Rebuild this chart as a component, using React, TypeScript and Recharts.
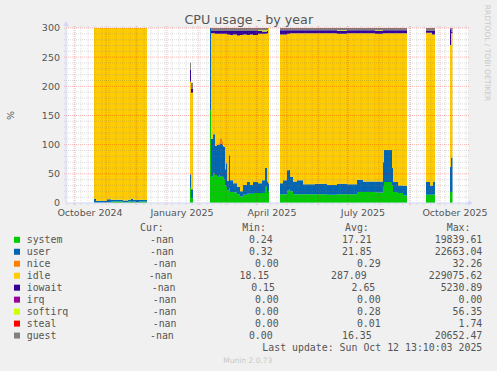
import React from 'react';
import { ComposedChart, Area, XAxis, YAxis, CartesianGrid, ReferenceLine } from 'recharts';

// Day index: days since 1 Oct 2024 (one pixel per day in the original)
const days = [
  19, 21, 32, 36, 48, 53, 56, 58, 61, 64, 68, 72,
  115, 116, 118,
  135, 136, 138, 140, 142, 144, 145, 147, 148, 149, 150, 151, 152, 154, 155, 158, 162, 165, 168, 172, 175, 178, 183, 187, 190, 192, 193, 194,
  205, 208, 212, 214, 215, 218, 222, 228, 240, 252, 262, 272, 282, 288, 300, 308, 309, 317, 318, 323, 328, 332,
  351, 355, 357, 358, 360,
  375, 376, 377.5,
];
const system = [
  0.5, 0.5, 1, 2.5, 1, 2.5, 2, 2.5, 1, 2.5, 2.5, 0,
  26, 8, 0,
  159, 45, 50, 48, 45, 47, 45, 46, 44, 40, 30, 28, 22, 25, 19, 18, 15, 11, 14, 16, 16, 17, 17, 17, 28, 17, 20, 0,
  15, 15, 22, 24, 20, 15, 15, 15, 15, 14, 15, 15, 19, 19, 18, 28, 36, 30, 19, 17, 13, 0,
  14, 14, 14, 15, 0,
  19, 19, 0,
];
const user = [
  6.5, 3.5, 5.5, 3, 3.5, 3, 5.5, 3, 4, 3, 2.5, 0,
  23, 15.5, 0,
  141, 65, 68, 50, 55, 53, 57, 54, 52, 56, 28, 40, 16, 57, 20, 16, 13, 9, 17, 20, 15, 19, 17, 22, 32, 20, 14, 0,
  19, 24, 34, 33, 25, 22, 24, 17, 18, 17, 18, 17, 21, 18, 19, 42, 55, 30, 17, 13, 16, 0,
  22, 16, 16, 22, 0,
  43, 59, 0,
];
const nice = [
  0, 0, 0, 0, 0, 0, 0, 0, 0, 0, 0, 0,
  2, 0, 0,
  0, 0, 0, 0, 0, 3, 9, 6, 2, 0, 0, 0, 0, 0, 0, 0, 0, 0, 0, 0, 0, 0, 0, 0, 0, 0, 0, 0,
  0, 0, 0, 0, 0, 0, 0, 0, 0, 0, 0, 0, 0, 0, 0, 0, 0, 0, 0, 0, 0, 0,
  0, 0, 0, 0, 0,
  0, 0, 0,
];
const idle = [
  293, 296, 293.5, 294.5, 295.5, 294.5, 292.5, 294.5, 295, 294.5, 295, 0,
  157, 165.5, 0,
  0, 181, 173, 192, 190, 187, 179, 184, 192, 194, 232, 222, 251, 207, 249, 255, 259, 268, 258, 252, 258, 252, 256, 251, 230, 254, 266, 0,
  255, 250, 234, 233, 246, 254, 252, 259, 258, 260, 257, 259, 251, 254, 253, 221, 200, 231, 255, 261, 262, 0,
  256, 262, 259, 252, 0,
  209, 213, 0,
];
const iowait = [
  0, 0, 0, 0, 0, 0, 0, 0, 0, 0, 0, 0,
  21, 7.5, 0,
  0, 4, 4, 5, 5, 5, 5, 5, 5, 5, 5, 5, 6, 6, 7, 6, 8, 7, 6, 7, 6, 7, 5, 4, 4, 4, 0, 0,
  7, 7, 6, 6, 5, 5, 5, 5, 5, 5, 5, 5, 5, 5, 5, 5, 5, 5, 5, 5, 5, 0,
  3, 3, 6, 6, 0,
  27, 3, 0,
];
const softirq = [
  0, 0, 0, 0, 0, 0, 0, 0, 0, 0, 0, 0,
  0, 0, 0,
  0, 0, 0, 0, 0, 0, 0, 0, 0, 0, 0, 0, 0, 0, 0, 0, 0, 0, 0, 0, 0, 0, 1, 2, 2, 1, 0, 0,
  0, 0, 0, 0, 0, 0, 0, 0, 0, 0, 1, 0, 0, 0, 1, 0, 0, 0, 0, 0, 0, 0,
  0, 0, 0, 0, 0,
  0, 0, 0,
];
const guest = [
  0, 0, 0, 0, 0, 0, 0, 0, 0, 0, 0, 0,
  12, 9.5, 0,
  0, 5, 5, 5, 5, 5, 5, 5, 5, 5, 5, 5, 5, 5, 5, 5, 5, 5, 5, 5, 5, 5, 4, 4, 4, 4, 0, 0,
  4, 4, 4, 4, 4, 4, 4, 4, 4, 4, 4, 4, 4, 4, 4, 4, 4, 4, 4, 4, 4, 0,
  5, 5, 5, 5, 0,
  2, 6, 0,
];

// Axis ticks
const yTicks = [0, 50, 100, 150, 200, 250, 300];
const xLabelTicks = [15, 107, 197, 288, 380];
const xLabels = ['October 2024', 'January 2025', 'April 2025', 'July 2025', 'October 2025'];
const monthStarts = [0, 31, 61, 92, 123, 151, 182, 212, 243, 273, 304, 335, 365];
const yMinor = [10, 20, 30, 40, 60, 70, 80, 90, 110, 120, 130, 140, 160, 170, 180, 190, 210, 220, 230, 240, 260, 270, 280, 290];
const yMajor = [50, 100, 150, 200, 250, 300];
const weekStarts = Array.from({ length: 58 }, (_, i) => -8 + 7 * i);

// Legend / stats
const legendNames = ['system', 'user', 'nice', 'idle', 'iowait', 'irq', 'softirq', 'steal', 'guest'];
const legendColors = ['#00CC00', '#0066B3', '#FF8000', '#FFCC00', '#330099', '#990099', '#CCFF00', '#FF0000', '#808080'];
const curValues = ['-nan', '-nan', '-nan', '-nan', '-nan', '-nan', '-nan', '-nan', '-nan'];
const minValues = ['0.24', '0.32', '0.00', '18.15', '0.15', '0.00', '0.00', '0.00', '0.00'];
const avgValues = ['17.21', '21.85', '0.29', '287.09', '2.65', '0.00', '0.28', '0.01', '16.35'];
const maxValues = ['19839.61', '22663.04', '32.26', '229075.62', '5230.89', '0.00', '56.35', '1.74', '20652.47'];

const data = days.map((d, i) => ({
  d,
  system: system[i],
  user: user[i],
  nice: nice[i],
  idle: idle[i],
  iowait: iowait[i],
  softirq: softirq[i],
  guest: guest[i],
}));

const seriesKeys = ['system', 'user', 'nice', 'idle', 'iowait', 'softirq', 'guest'];
const seriesColors: Record<string, string> = {
  system: '#00CC00', user: '#0066B3', nice: '#FF8000', idle: '#FFCC00',
  iowait: '#330099', softirq: '#CCFF00', guest: '#808080',
};

// layout (pixel positions of the stats table)
const curX = [150, 150, 152.7, 148.7, 151.7, 152.7, 152.7, 152.7, 150];
const minEnd = [272.7, 272.7, 278.7, 269.3, 275, 278.7, 278.7, 278.7, 272.7];
const avgEnd = [371.7, 371.7, 380.7, 366.7, 375.3, 380.7, 380.7, 380.7, 371.7];

const TEXT = '#555555';
const MINOR = 'rgba(128,128,128,0.26)';
const MAJOR = 'rgba(235,0,0,0.28)';
const AXIS = '#CFD6F8';

const YTick = (props: any) => (
  <text x={props.x} y={props.y} dy={3.4} textAnchor="end" fontFamily="DejaVu Sans" fontSize={9.5} fill={TEXT}>
    {props.payload.value}
  </text>
);
const XTick = (props: any) => (
  <text x={props.x} y={props.y + 12.5} textAnchor="middle" fontFamily="DejaVu Sans" fontSize={9.5} fill={TEXT}>
    {xLabels[props.index]}
  </text>
);

export default function App() {
  const mono = 'DejaVu Sans Mono';
  return (
    <div style={{ position: 'absolute', left: 0, top: 0, width: 497, height: 371, background: '#F0F0F0', overflow: 'hidden' }}>
      <ComposedChart width={497} height={371} data={data} margin={{ top: 28, right: 29, bottom: 138, left: 6 }}>
        <CartesianGrid fill="#FFFFFF" horizontal={false} vertical={false} stroke="none" />
        <XAxis
          dataKey="d"
          type="number"
          domain={[-9, 393]}
          ticks={xLabelTicks}
          interval={0}
          allowDataOverflow
          height={30}
          tickLine={false}
          tickSize={0}
          tickMargin={0}
          axisLine={{ stroke: AXIS }}
          tick={<XTick />}
        />
        <YAxis
          type="number"
          domain={[0, 300]}
          ticks={yTicks}
          interval={0}
          allowDataOverflow
          width={60}
          tickLine={false}
          tickSize={0}
          tickMargin={6}
          axisLine={{ stroke: AXIS }}
          tick={<YTick />}
        />
        {seriesKeys.map((k) => (
          <Area
            key={k}
            dataKey={k}
            stackId="cpu"
            type="stepAfter"
            fill={seriesColors[k]}
            fillOpacity={1}
            stroke="none"
            dot={false}
            activeDot={false}
            isAnimationActive={false}
          />
        ))}
        {weekStarts.map((w) => (
          <ReferenceLine key={'w' + w} segment={[{ x: w, y: -3.4 }, { x: w, y: 303.4 }]} stroke={MINOR} strokeDasharray="1 1" ifOverflow="visible" />
        ))}
        {yMinor.map((v) => (
          <ReferenceLine key={'h' + v} segment={[{ x: -11, y: v }, { x: 395, y: v }]} stroke={MINOR} strokeDasharray="1 1" ifOverflow="visible" />
        ))}
        {monthStarts.map((m) => (
          <ReferenceLine key={'m' + m} segment={[{ x: m, y: -3.4 }, { x: m, y: 303.4 }]} stroke={MAJOR} strokeDasharray="1 1" ifOverflow="visible" />
        ))}
        {yMajor.map((v) => (
          <ReferenceLine key={'H' + v} segment={[{ x: -11, y: v }, { x: 395, y: v }]} stroke={MAJOR} strokeDasharray="1 1" ifOverflow="visible" />
        ))}
      </ComposedChart>
      <svg width={497} height={371} style={{ position: 'absolute', left: 0, top: 0, pointerEvents: 'none' }}>
        {/* axis arrows */}
        <polygon points="468,200.5 473,203 468,205.5" fill={AXIS} />
        <polygon points="63.5,26 66,21 68.5,26" fill={AXIS} />
        <text x={248.8} y={24} textAnchor="middle" fontFamily="DejaVu Sans" fontSize={12.7} fill={TEXT}>
          CPU usage - by year
        </text>
        <text x={0} y={0} transform="translate(13.5,115.5) rotate(-90)" textAnchor="middle" fontFamily="DejaVu Sans" fontSize={9.5} fill={TEXT}>
          %
        </text>
        <text x={0} y={0} transform="translate(484.5,53) rotate(90)" textAnchor="middle" fontFamily="DejaVu Sans" fontSize={7.5} fill="#C8C8C8">
          RRDTOOL / TOBI OETIKER
        </text>
        <g fontFamily={mono} fontSize={9.9} fill={TEXT} style={{ whiteSpace: 'pre' }}>
          <text x={140} y={230.7}>Cur:</text>
          <text x={242.2} y={230.7}>Min:</text>
          <text x={345} y={230.7}>Avg:</text>
          <text x={446.7} y={230.7}>Max:</text>
          {legendNames.map((n, i) => {
            const y = 243.3 + i * 11.97;
            return (
              <g key={n}>
                <rect x={14} y={y - 6.5} width={6} height={6} fill={legendColors[i]} />
                <text x={26.7} y={y}>{n}</text>
                <text x={curX[i]} y={y}>{curValues[i]}</text>
                <text x={minEnd[i]} y={y} textAnchor="end">{minValues[i]}</text>
                <text x={avgEnd[i]} y={y} textAnchor="end">{avgValues[i]}</text>
                <text x={482.3} y={y} textAnchor="end">{maxValues[i]}</text>
              </g>
            );
          })}
          <text x={482.3} y={351.3} textAnchor="end">Last update: Sun Oct 12 13:10:03 2025</text>
        </g>
        <text x={223.3} y={363} fontFamily="DejaVu Sans" fontSize={7.5} fill="#C8C8C8">
          Munin 2.0.73
        </text>
      </svg>
    </div>
  );
}
